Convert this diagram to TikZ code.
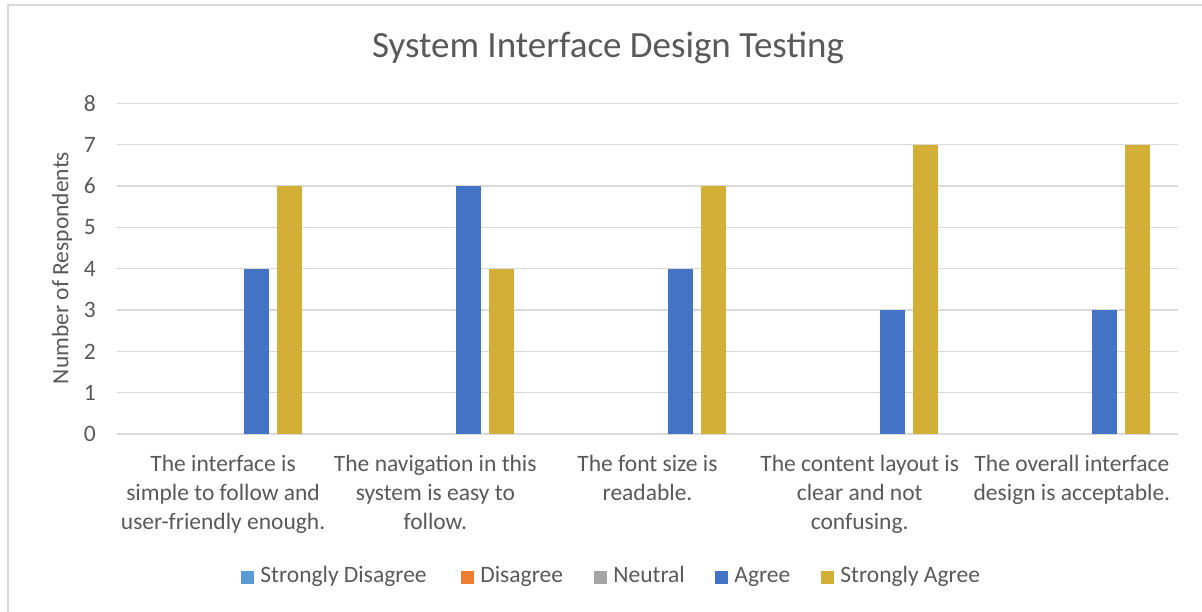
\documentclass[tikz,border=0pt]{standalone}
\usepackage{fontspec}
\setmainfont{Carlito}
\usetikzlibrary{positioning}
\definecolor{txtgray}{HTML}{595959}
\definecolor{gridgray}{HTML}{D9D9D9}
\definecolor{sdis}{HTML}{5B9BD5}
\definecolor{dis}{HTML}{ED7D31}
\definecolor{neu}{HTML}{A5A5A5}
\definecolor{agr}{HTML}{4472C4}
\definecolor{sagr}{HTML}{D4AF37}

\begin{document}
\begin{tikzpicture}[x=1pt,y=-1pt,
    lbl/.style={text=txtgray,inner sep=0pt,font=\fontsize{23.5}{29}\selectfont},
    catlbl/.style={lbl,align=center,anchor=north},
    legtxt/.style={lbl,text height=16pt,text depth=5pt},
    legbox/.style={minimum size=13pt,inner sep=0pt}]
    \useasboundingbox (0,0) rectangle (1202,611);
    \clip (0,0) rectangle (1202,611);
    % chart frame
    \draw[gridgray,line width=1.3pt] (8,5) rectangle (1220,630);

    % title and axis title
    \node[lbl,font=\fontsize{37}{44}\selectfont] (title) at (608,48) {System Interface Design Testing};
    \node[lbl,rotate=90] (ytitle) at (62,268) {Number of Respondents};

    % gridlines and tick labels
    \foreach \v in {0,...,8}{
        \draw[gridgray,line width=1.3pt] (117,{434-41.31*\v}) -- (1178,{434-41.31*\v});
        \node[lbl,anchor=east] (tick\v) at (96,{434-41.31*\v}) {\v};
    }

    % bars: Agree / Strongly Agree
    \foreach \i/\a/\s in {0/4/6,1/6/4,2/4/6,3/3/7,4/3/7}{
        \pgfmathsetmacro\cx{117+212.2*(\i+0.5)}
        \fill[agr] ({\cx+20.5},434) rectangle ({\cx+45.5},{434-41.31*\a});
        \fill[sagr] ({\cx+53.5},434) rectangle ({\cx+78.5},{434-41.31*\s});
    }

    % category labels
    \node[catlbl] (cat1) at (223.1,455) {The interface is\\simple to follow and\\user-friendly enough.};
    \node[catlbl] (cat2) at (435.3,455) {The navigation in this\\system is easy to\\follow.};
    \node[catlbl] (cat3) at (647.5,455) {The font size is\\readable.};
    \node[catlbl] (cat4) at (859.7,455) {The content layout is\\clear and not\\confusing.};
    \node[catlbl] (cat5) at (1071.9,455) {The overall interface\\design is acceptable.};

    % legend
    \node[legbox,fill=sdis] (leg1) at (247.5,577) {};
    \node[legtxt,right=6pt of leg1] (legt1) {Strongly Disagree};
    \node[legbox,fill=dis] (leg2) at (467.5,577) {};
    \node[legtxt,right=6pt of leg2] (legt2) {Disagree};
    \node[legbox,fill=neu] (leg3) at (600.5,577) {};
    \node[legtxt,right=6pt of leg3] (legt3) {Neutral};
    \node[legbox,fill=agr] (leg4) at (721.5,577) {};
    \node[legtxt,right=6pt of leg4] (legt4) {Agree};
    \node[legbox,fill=sagr] (leg5) at (827.5,577) {};
    \node[legtxt,right=6pt of leg5] (legt5) {Strongly Agree};
\end{tikzpicture}
\end{document}
